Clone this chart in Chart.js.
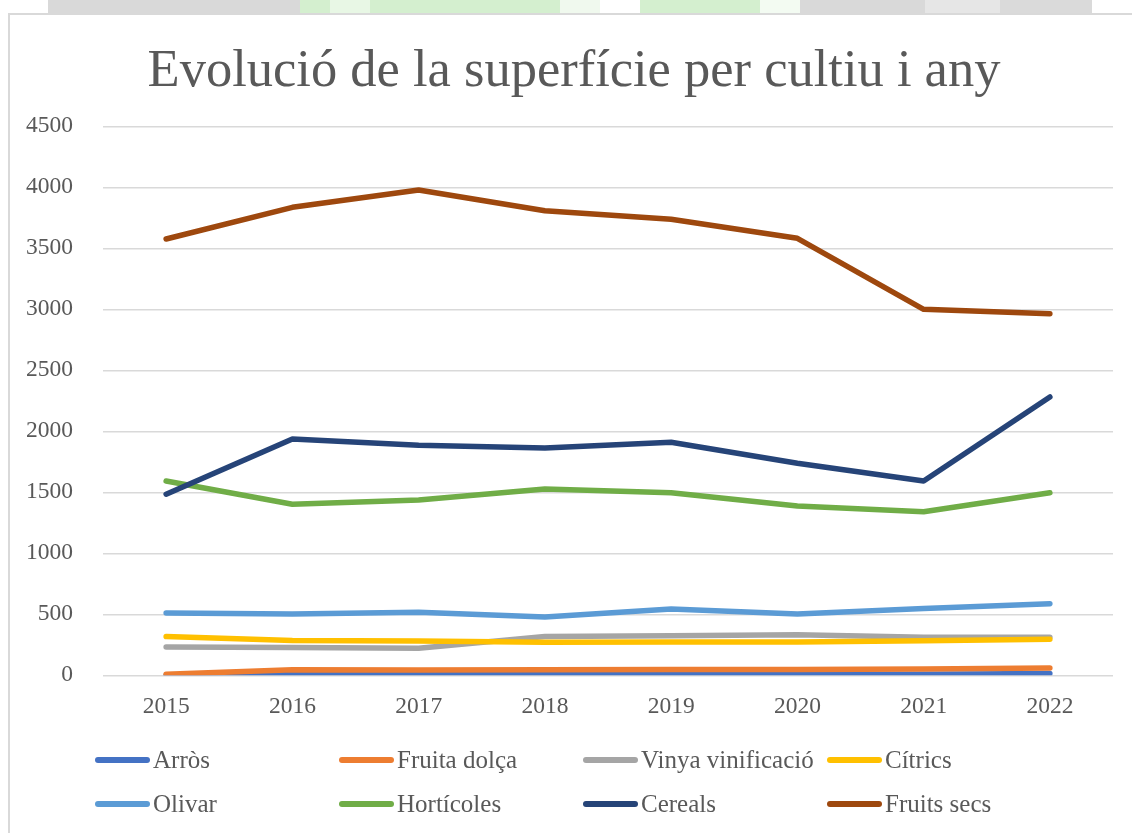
<!DOCTYPE html>
<html>
<head>
<meta charset="utf-8">
<script src="https://cdn.jsdelivr.net/npm/chart.js@4/dist/chart.umd.min.js"></script>
<style>
  html, body { margin: 0; padding: 0; background: #ffffff; overflow: hidden; }
  #strip {
    position: absolute; left: 0; top: 0; width: 1132px; height: 14px;
    background: linear-gradient(to right,
      #ffffff 0px, #ffffff 48px,
      #d9d9d9 48px, #d9d9d9 300px,
      #d4efcf 300px, #d4efcf 330px,
      #e8f7e5 330px, #e8f7e5 370px,
      #d4efcf 370px, #d4efcf 560px,
      #f0f9ee 560px, #f0f9ee 600px,
      #ffffff 600px, #ffffff 640px,
      #d4efcf 640px, #d4efcf 760px,
      #f3fbf2 760px, #f3fbf2 800px,
      #d9d9d9 800px, #d9d9d9 925px,
      #e6e6e6 925px, #e6e6e6 1000px,
      #dadada 1000px, #dadada 1092px,
      #ffffff 1092px, #ffffff 1132px);
  }
  #box {
    position: absolute; left: 8px; top: 13px; width: 1140px; height: 840px;
    border-top: 2px solid #d9d9d9; border-left: 2px solid #d9d9d9;
    background: #ffffff;
  }
  #c { position: absolute; left: 0; top: 0; }
</style>
</head>
<body>
<div id="strip"></div>
<div id="box"></div>
<canvas id="c" width="1132" height="833"></canvas>
<script>
// ---- Data ----
const years = ['2015', '2016', '2017', '2018', '2019', '2020', '2021', '2022'];
const seriesNames = ['Arròs', 'Fruita dolça', 'Vinya vinificació', 'Cítrics', 'Olivar', 'Hortícoles', 'Cereals', 'Fruits secs'];
const arros       = [0, 4, 6, 6, 8, 6, 9, 14];
const fruitaDolca = [8, 45, 44, 46, 47, 47, 52, 60];
const vinya       = [231, 227, 221, 318, 324, 333, 312, 311];
const citrics     = [318, 285, 282, 270, 273, 273, 284, 296];
const olivar      = [510, 502, 516, 477, 543, 503, 548, 587];
const horticoles  = [1593, 1402, 1437, 1527, 1497, 1388, 1341, 1497];
const cereals     = [1484, 1937, 1885, 1863, 1910, 1738, 1593, 2281];
const fruitsSecs  = [3576, 3836, 3978, 3808, 3738, 3582, 3000, 2964];
const yTicks      = [0, 500, 1000, 1500, 2000, 2500, 3000, 3500, 4000, 4500];
const yTickLabels = ['0', '500', '1000', '1500', '2000', '2500', '3000', '3500', '4000', '4500'];
const titleText   = 'Evolució de la superfície per cultiu i any';

// ---- Styles ----
const colors = ['#4472C4', '#ED7D31', '#A5A5A5', '#FFC000', '#5B9BD5', '#70AD47', '#264478', '#9E480E'];
const seriesData = [arros, fruitaDolca, vinya, citrics, olivar, horticoles, cereals, fruitsSecs];
const FONT = "'Book Antiqua', 'Palatino Linotype', Palatino, 'Liberation Serif', serif";
const TEXT = '#595959';

const datasets = seriesNames.map((name, i) => ({
  label: name,
  data: seriesData[i],
  yAxisID: 'y',
  borderColor: colors[i],
  backgroundColor: colors[i],
  borderWidth: 5.5,
  pointRadius: 0,
  pointHoverRadius: 0,
  tension: 0,
  fill: false,
  borderCapStyle: 'round',
  borderJoinStyle: 'round',
  order: seriesNames.length - i
}));

const gridLegend = {
  id: 'gridLegend',
  afterDraw(chart) {
    const ctx = chart.ctx;
    const startX = 95, colW = 244, rowY0 = 761, rowH = 44, sampleW = 55;
    ctx.save();
    ctx.font = '25px ' + FONT;
    ctx.textBaseline = 'middle';
    ctx.textAlign = 'left';
    chart.data.datasets.forEach((ds, i) => {
      const col = i % 4, row = Math.floor(i / 4);
      const x = startX + col * colW;
      const y = rowY0 + row * rowH;
      ctx.strokeStyle = ds.borderColor;
      ctx.lineWidth = 6;
      ctx.lineCap = 'round';
      ctx.beginPath();
      ctx.moveTo(x + 3, y - 1);
      ctx.lineTo(x + sampleW - 3, y - 1);
      ctx.stroke();
      ctx.fillStyle = TEXT;
      ctx.fillText(ds.label, x + sampleW + 3, y);
    });
    ctx.restore();
  }
};

new Chart(document.getElementById('c'), {
  type: 'line',
  data: { labels: years, datasets: datasets },
  plugins: [gridLegend],
  options: {
    responsive: false,
    animation: false,
    events: [],
    layout: { padding: { left: 16, right: 0, top: 0, bottom: 0 } },
    plugins: {
      legend: { display: false },
      tooltip: { enabled: false },
      title: {
        display: true,
        text: titleText,
        color: TEXT,
        font: { family: FONT, size: 52.5, weight: 'normal', lineHeight: 1.2 },
        padding: { top: 40.5, bottom: 22.8 }
      }
    },
    scales: {
      x: {
        offset: true,
        grid: { display: false, drawTicks: false },
        border: { display: false },
        ticks: { color: TEXT, font: { family: FONT, size: 23.5 }, padding: 17.5, maxRotation: 0 },
        afterFit(scale) { scale.height = 833 - 675.3; }
      },
      y: {
        position: 'left',
        min: 0,
        max: 4500,
        afterBuildTicks(scale) { scale.ticks = yTicks.map(v => ({ value: v })); },
        grid: { color: '#D9D9D9', lineWidth: 1.5, drawTicks: false },
        border: { display: false },
        ticks: {
          color: TEXT, font: { family: FONT, size: 23.5 }, padding: 30,
          callback: (v) => { const k = yTicks.indexOf(v); return k >= 0 ? yTickLabels[k] : ''; }
        },
        afterFit(scale) { scale.width = 87; }
      },
      yRightSpace: {
        position: 'right',
        display: true,
        grid: { display: false, drawTicks: false },
        border: { display: false },
        ticks: { display: false },
        afterFit(scale) { scale.width = 19; }
      }
    }
  }
});
</script>
</body>
</html>
